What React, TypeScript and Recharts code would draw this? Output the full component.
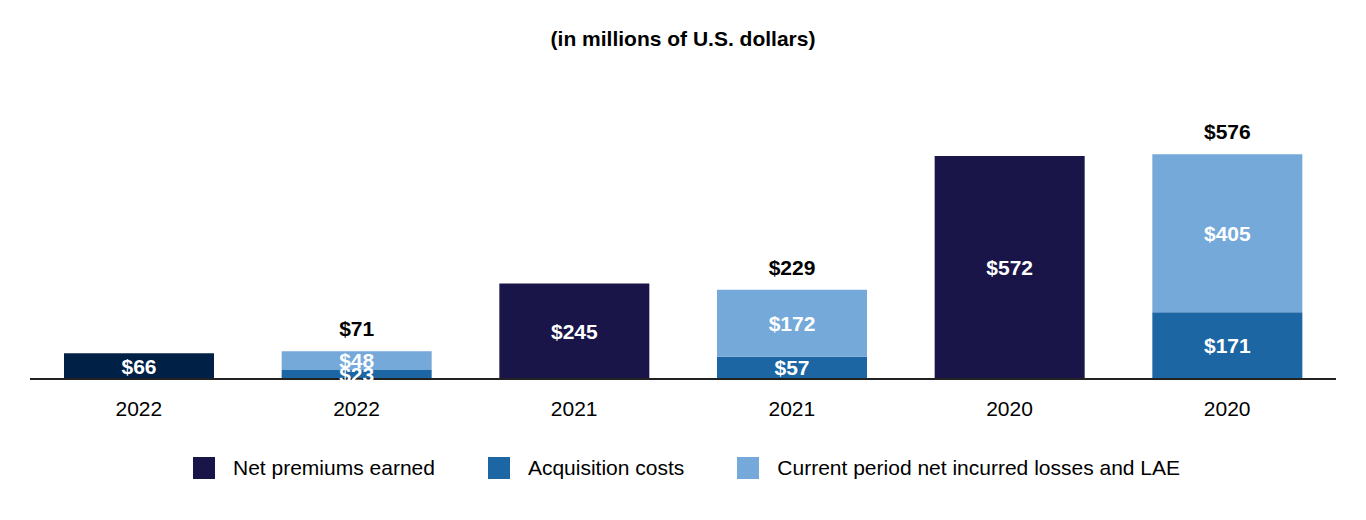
import React from "react";
import { BarChart, Bar, XAxis, YAxis, LabelList, Cell } from "recharts";

const categories = ["2022", "2022", "2021", "2021", "2020", "2020"];
const netPremiums = [66, null, 245, null, 572, null];
const acquisitionCosts = [null, 23, null, 57, null, 171];
const lossesLae = [null, 48, null, 172, null, 405];
const totals = [null, 71, null, 229, null, 576];

const series = [
  { key: "net", name: "Net premiums earned", color: "#1a1548" },
  { key: "acq", name: "Acquisition costs", color: "#1b66a3" },
  { key: "loss", name: "Current period net incurred losses and LAE", color: "#74a9da" }
];

const data = categories.map((c, i) => ({
  id: i,
  year: c,
  net: netPremiums[i],
  acq: acquisitionCosts[i],
  loss: lossesLae[i],
  total: totals[i]
}));

const FONT = "'Liberation Sans', Arial, sans-serif";

const money = (v: any) => (v == null ? "" : `$${v}`);

const inner = {
  fill: "#fff",
  fontSize: 21,
  fontWeight: 700,
  fontFamily: FONT
};

export default function App() {
  React.useEffect(() => {
    document.body.style.margin = "0";
  }, []);

  return (
    <div style={{ position: "relative", width: 1366, height: 520, background: "#fff", fontFamily: FONT }}>
      <div
        style={{
          position: "absolute",
          top: 27,
          left: 0,
          width: 1366,
          textAlign: "center",
          fontSize: 21,
          fontWeight: 700,
          color: "#000"
        }}
      >
        (in millions of U.S. dollars)
      </div>
      <BarChart
        width={1366}
        height={520}
        data={data}
        margin={{ top: 106, right: 30, bottom: 111, left: 30 }}
        barSize={150}
      >
        <XAxis
          dataKey="id"
          tickFormatter={(i: number) => categories[i]}
          axisLine={{ stroke: "#222", strokeWidth: 2 }}
          tickLine={false}
          tickMargin={16}
          height={30}
          tick={{ fill: "#000", fontSize: 21, fontFamily: FONT }}
          interval={0}
        />
        <YAxis hide domain={[0, 700]} />
        <Bar dataKey="net" stackId="a" fill={series[0].color} isAnimationActive={false}>
          {data.map((d, i) => (
            <Cell key={i} fill={i === 0 ? "#002046" : series[0].color} />
          ))}
          <LabelList dataKey="net" position="center" formatter={money} style={inner} />
        </Bar>
        <Bar dataKey="acq" stackId="a" fill={series[1].color} isAnimationActive={false}>
          <LabelList dataKey="acq" position="center" formatter={money} style={inner} />
        </Bar>
        <Bar dataKey="loss" stackId="a" fill={series[2].color} isAnimationActive={false}>
          <LabelList dataKey="loss" position="center" formatter={money} style={inner} />
          <LabelList
            dataKey="total"
            position="top"
            offset={15}
            formatter={money}
            style={{ fill: "#000", fontSize: 21, fontWeight: 700, fontFamily: FONT }}
          />
        </Bar>
      </BarChart>
      <div
        style={{
          position: "absolute",
          top: 456,
          left: 193,
          display: "flex",
          alignItems: "center",
          fontSize: 21,
          color: "#000"
        }}
      >
        {series.map((s) => (
          <div key={s.key} style={{ display: "flex", alignItems: "center", marginRight: 53 }}>
            <div style={{ width: 22, height: 22, background: s.color, marginRight: 18 }} />
            <span>{s.name}</span>
          </div>
        ))}
      </div>
    </div>
  );
}
